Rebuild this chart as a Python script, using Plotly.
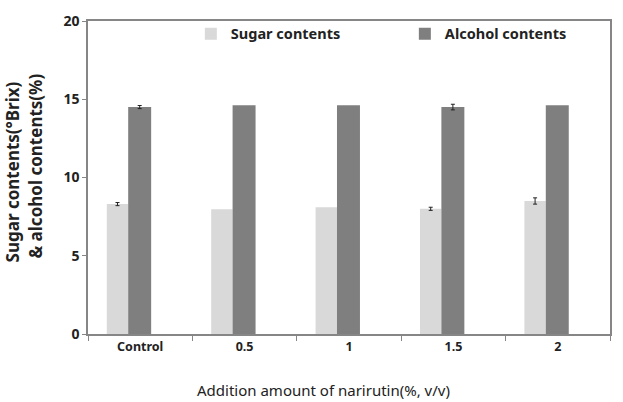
import plotly.graph_objects as go

categories = ["Control", "0.5", "1", "1.5", "2"]
sugar = [8.3, 7.97, 8.1, 8.0, 8.5]
sugar_err = [0.1, None, None, 0.1, 0.2]
alcohol = [14.5, 14.62, 14.62, 14.5, 14.62]
alcohol_err = [0.1, None, None, 0.18, None]
y_ticks = [0, 5, 10, 15, 20]
x_title = "Addition amount of narirutin(%, v/v)"
y_title_lines = ["Sugar contents(°Brix)", "& alcohol contents(%)"]

font_family = "Noto Sans, Open Sans, DejaVu Sans, sans-serif"

series = [
    dict(name="Sugar contents", y=sugar, err=sugar_err, color="#d9d9d9",
         width=0.205, offset=-0.32, legend="legend"),
    dict(name="Alcohol contents", y=alcohol, err=alcohol_err, color="#7f7f7f",
         width=0.22, offset=-0.115, legend="legend2"),
]

fig = go.Figure()
for s in series:
    fig.add_trace(go.Bar(
        x=categories, y=s["y"], name=s["name"],
        marker=dict(color=s["color"], line=dict(width=0)),
        width=s["width"], offset=s["offset"], legend=s["legend"],
    ))
    # error bars only where a deviation is shown
    y_err_pts = [v if e is not None else None for v, e in zip(s["y"], s["err"])]
    fig.add_trace(go.Bar(
        x=categories, y=y_err_pts, showlegend=False, hoverinfo="skip",
        marker=dict(color="rgba(0,0,0,0)", line=dict(width=0)),
        width=s["width"], offset=s["offset"],
        error_y=dict(type="data", array=[e if e is not None else 0 for e in s["err"]],
                     color="#222222", thickness=1, width=2),
    ))

# axis titles as annotations for precise placement
fig.add_annotation(text=x_title, xref="paper", yref="paper", x=0.452, y=-0.18,
                   xanchor="center", yanchor="middle", showarrow=False,
                   font=dict(size=15, family=font_family, color="#222222"))
fig.add_annotation(text=y_title_lines[0], xref="paper", yref="paper",
                   x=(12 - 88) / 524, y=(334 - 167) / 323, textangle=-90,
                   xanchor="center", yanchor="middle", showarrow=False,
                   font=dict(size=17, family=font_family, color="#222222", weight="bold"))
fig.add_annotation(text=y_title_lines[1], xref="paper", yref="paper",
                   x=(35 - 88) / 524, y=(334 - 161) / 323, textangle=-90,
                   xanchor="center", yanchor="middle", showarrow=False,
                   font=dict(size=17, family=font_family, color="#222222", weight="bold"))

fig.update_layout(
    width=623, height=402,
    margin=dict(l=88, r=11, t=11, b=68),
    plot_bgcolor="white", paper_bgcolor="white",
    barmode="overlay",
    showlegend=True,
    font=dict(family=font_family, color="#222222"),
    legend=dict(x=0.197, y=1.01, xanchor="left", yanchor="top",
                bgcolor="rgba(0,0,0,0)", font=dict(size=14.5, family=font_family, weight="bold"),
                itemwidth=30),
    legend2=dict(x=0.607, y=1.01, xanchor="left", yanchor="top",
                 bgcolor="rgba(0,0,0,0)", font=dict(size=14.5, family=font_family, weight="bold"),
                 itemwidth=30),
    xaxis=dict(
        type="category",
        tickson="boundaries",
        ticks="outside", ticklen=5, tickcolor="#868686",
        showline=True, linecolor="#868686", linewidth=1.5, mirror=True,
        tickfont=dict(size=12.5, family=font_family, weight="bold"),
        range=[-0.5, 4.5],
    ),
    yaxis=dict(
        range=[0, 20], tickvals=y_ticks,
        ticks="outside", ticklen=4, tickcolor="#868686",
        showline=True, linecolor="#868686", linewidth=1.5, mirror=True,
        showgrid=False, zeroline=False,
        tickfont=dict(size=14, family=font_family, weight="bold"),
    ),
)

fig.write_html("out.html")
